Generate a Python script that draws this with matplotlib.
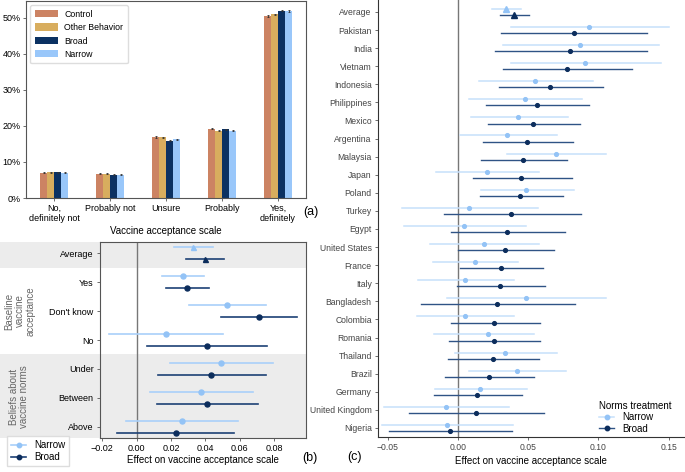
import matplotlib
matplotlib.use("Agg")
import matplotlib.pyplot as plt
from matplotlib.patches import Rectangle
from matplotlib.lines import Line2D
from matplotlib.ticker import FuncFormatter
import numpy as np

plt.rcParams['font.family'] = ['Liberation Sans', 'DejaVu Sans']

# ---- panel (a) data: share of answers (%)
scale_cats = ["No,\ndefinitely not", "Probably not", "Unsure", "Probably", "Yes,\ndefinitely"]
bar_groups = ["Control", "Other Behavior", "Broad", "Narrow"]
control_pct = [7.0, 6.7, 16.9, 19.2, 50.5]
other_pct = [7.1, 6.7, 16.8, 18.7, 50.9]
broad_pct = [7.1, 6.5, 15.9, 19.0, 51.9]
narrow_pct = [7.0, 6.5, 16.3, 18.6, 51.8]
bar_err = [0.12, 0.12, 0.15, 0.15, 0.2]

# ---- panel (b) data: effects by subgroup (estimate, low, high)
sub_rows = ["Average", "Yes", "Don't know", "No", "Under", "Between", "Above"]
sub_narrow = [0.0329, 0.0269, 0.0525, 0.0170, 0.0492, 0.0376, 0.0261]
sub_narrow_lo = [0.0217, 0.0147, 0.0304, -0.0159, 0.0196, 0.0077, -0.0060]
sub_narrow_hi = [0.0441, 0.0391, 0.0749, 0.0500, 0.0790, 0.0676, 0.0587]
sub_broad = [0.0395, 0.0294, 0.0711, 0.0409, 0.0434, 0.0410, 0.0228]
sub_broad_lo = [0.0285, 0.0170, 0.0490, 0.0060, 0.0122, 0.0118, -0.0112]
sub_broad_hi = [0.0507, 0.0418, 0.0931, 0.0759, 0.0749, 0.0707, 0.0567]

# ---- panel (c) data: effects by country
countries = ["Average", "Pakistan", "India", "Vietnam", "Indonesia", "Philippines", "Mexico",
             "Argentina", "Malaysia", "Japan", "Poland", "Turkey", "Egypt", "United States",
             "France", "Italy", "Bangladesh", "Colombia", "Romania", "Thailand", "Brazil",
             "Germany", "United Kingdom", "Nigeria"]
c_narrow = [0.0345, 0.0934, 0.0872, 0.0903, 0.0548, 0.0475, 0.0430, 0.0350, 0.0697, 0.0206,
            0.0487, 0.0080, 0.0043, 0.0182, 0.0118, 0.0050, 0.0482, 0.0047, 0.0213, 0.0336,
            0.0418, 0.0156, -0.0085, -0.0080]
c_narrow_lo = [0.0241, 0.0374, 0.0322, 0.0374, 0.0149, 0.0078, 0.0090, 0.0012, 0.0348, -0.0158,
               0.0161, -0.0400, -0.0385, -0.0201, -0.0177, -0.0286, -0.0078, -0.0293, -0.0168,
               -0.0021, 0.0080, -0.0165, -0.0525, -0.0544]
c_narrow_hi = [0.0449, 0.1506, 0.1435, 0.1444, 0.0960, 0.0882, 0.0785, 0.0702, 0.1057, 0.0579,
               0.0825, 0.0570, 0.0487, 0.0577, 0.0430, 0.0400, 0.1054, 0.0402, 0.0539, 0.0707,
               0.0768, 0.0492, 0.0366, 0.0392]
c_broad = [0.0402, 0.0823, 0.0797, 0.0775, 0.0657, 0.0563, 0.0537, 0.0489, 0.0463, 0.0452,
           0.0444, 0.0381, 0.0350, 0.0333, 0.0305, 0.0300, 0.0277, 0.0258, 0.0253, 0.0246,
           0.0222, 0.0137, 0.0128, -0.0059]
c_broad_lo = [0.0296, 0.0305, 0.0260, 0.0324, 0.0291, 0.0201, 0.0215, 0.0175, 0.0161, 0.0104,
              0.0156, -0.0102, -0.0052, 0.0000, 0.0017, -0.0007, -0.0265, -0.0052, -0.0066,
              -0.0073, -0.0090, -0.0173, -0.0348, -0.0492]
c_broad_hi = [0.0504, 0.1348, 0.1343, 0.1239, 0.1035, 0.0936, 0.0868, 0.0818, 0.0778, 0.0813,
              0.0747, 0.0875, 0.0764, 0.0681, 0.0608, 0.0622, 0.0832, 0.0584, 0.0584, 0.0577,
              0.0544, 0.0456, 0.0615, 0.0385]

W, H = 685, 472
fig = plt.figure(figsize=(W / 100, H / 100), dpi=100)


def px(l, t, r, b):
    return [l / W, 1 - b / H, (r - l) / W, (b - t) / H]


def minus_fmt(v, pos):
    return ("%.2f" % v).replace("-", "\u2212")


bar_colors = ["#cc8363", "#d8ad5e", "#0b3162", "#99c7fa"]
light = "#a9d0fa"
light_pt = "#93c3f6"
dark = "#1d4175"
dark_pt = "#0c2d5c"
spine_c = "#555555"

# ================= (a)
ax = fig.add_axes(px(26, 1, 306, 198))
x = np.arange(len(scale_cats))
bw = 0.125
series = [control_pct, other_pct, broad_pct, narrow_pct]
for i, (name, vals) in enumerate(zip(bar_groups, series)):
    ax.bar(x + (i - 1.5) * bw, vals, bw, color=bar_colors[i], label=name,
           yerr=bar_err, error_kw=dict(ecolor="#333333", elinewidth=0.6, capsize=1, capthick=0.6))
ax.set_xlim(-0.5, 4.5)
ax.set_ylim(0, 54.6)
ax.set_yticks([0, 10, 20, 30, 40, 50])
ax.set_yticklabels(["%d%%" % v for v in [0, 10, 20, 30, 40, 50]])
ax.set_xticks(x)
ax.set_xticklabels(scale_cats)
ax.tick_params(labelsize=6.5, length=2.5, width=0.6, color=spine_c, pad=1.5)
ax.set_xlabel("Vaccine acceptance scale", fontsize=7, labelpad=2)
for s in ax.spines.values():
    s.set_color(spine_c)
    s.set_linewidth(0.8)
leg = ax.legend(loc="upper left", fontsize=6.3, handlelength=2.6, handleheight=0.9,
                borderpad=0.5, labelspacing=0.5, framealpha=1, edgecolor="#dddddd")
fig.text(311 / W, 1 - 212 / H, "(a)", fontsize=9, ha="center", va="center")

# ================= (b)
bx = fig.add_axes(px(100, 242, 306, 438))
ypos = np.arange(len(sub_rows))
off = 0.2
# gray bands across label area
for (y0, y1) in [(-0.38, 0.5), (3.5, 6.38)]:
    bx.add_patch(Rectangle((-100 / 206, y0), 1 + 100 / 206, y1 - y0,
                           transform=bx.get_yaxis_transform(), color="#ececec",
                           zorder=0, clip_on=False, lw=0))
bx.axvline(0, color="#777777", lw=1, zorder=1)
for i in range(len(sub_rows)):
    mk = "^" if i == 0 else "o"
    bx.plot([sub_narrow_lo[i], sub_narrow_hi[i]], [i - off, i - off], color=light, lw=1.2, zorder=2)
    bx.plot(sub_narrow[i], i - off, marker=mk, color=light_pt, ms=3.6, zorder=3)
    bx.plot([sub_broad_lo[i], sub_broad_hi[i]], [i + off, i + off], color=dark, lw=1.2, zorder=2)
    bx.plot(sub_broad[i], i + off, marker=mk, color=dark_pt, ms=3.6, zorder=3)
bx.set_ylim(6.38, -0.38)
bx.set_xlim(-0.0213, 0.0984)
bx.set_yticks(ypos)
bx.set_yticklabels(sub_rows)
bx.set_xticks([-0.02, 0.0, 0.02, 0.04, 0.06, 0.08])
bx.xaxis.set_major_formatter(FuncFormatter(minus_fmt))
bx.tick_params(labelsize=6.5, length=2.5, width=0.6, color=spine_c, pad=2)
bx.set_xlabel("Effect on vaccine acceptance scale", fontsize=7, labelpad=1)
bx.patch.set_alpha(0)
for s in bx.spines.values():
    s.set_color(spine_c)
    s.set_linewidth(0.8)
fig.text(20 / W, 1 - 311 / H, "Baseline\nvaccine\nacceptance", rotation=90, fontsize=7,
         color="#666666", ha="center", va="center", linespacing=1.1)
fig.text(19 / W, 1 - 397 / H, "Beliefs about\nvaccine norms", rotation=90, fontsize=7,
         color="#666666", ha="center", va="center", linespacing=1.1)
hb = [Line2D([], [], color=light, marker="o", mfc=light_pt, mec=light_pt, ms=3.2, lw=1.2),
      Line2D([], [], color=dark, marker="o", mfc=dark_pt, mec=dark_pt, ms=3.2, lw=1.2)]
fig.legend(hb, ["Narrow", "Broad"], loc="lower left", bbox_to_anchor=(2 / W, 1 / H),
           fontsize=7, handlelength=1.6, borderpad=0.4, labelspacing=0.2,
           framealpha=1, edgecolor="#dddddd", fancybox=False)
fig.text(310 / W, 1 - 458 / H, "(b)", fontsize=9, ha="center", va="center")

# ================= (c)
cx = fig.add_axes(px(378, 0, 684, 437))
cpos = np.arange(len(countries))
coff = 0.17
cx.axvline(0, color="#777777", lw=1, zorder=1)
for i in range(len(countries)):
    if i == 0:
        mk, ms = "^", 5
    else:
        mk, ms = "o", 2.7
    cx.plot([c_narrow_lo[i], c_narrow_hi[i]], [i - coff, i - coff], color="#c6e0fb", lw=1.1, zorder=2)
    cx.plot(c_narrow[i], i - coff, marker=mk, color=light_pt, ms=ms, zorder=3)
    cx.plot([c_broad_lo[i], c_broad_hi[i]], [i + coff, i + coff], color="#2f5385", lw=1.0, zorder=2)
    cx.plot(c_broad[i], i + coff, marker=mk, color=dark_pt, ms=ms, zorder=3)
cx.set_ylim(23.5, -0.66)
cx.set_xlim(-0.057, 0.161)
cx.set_yticks(cpos)
cx.set_yticklabels(countries)
cx.set_xticks([-0.05, 0.0, 0.05, 0.10, 0.15])
cx.xaxis.set_major_formatter(FuncFormatter(minus_fmt))
cx.tick_params(labelsize=6.2, length=2.5, width=0.6, color=spine_c, pad=2, labelcolor="#444444")
cx.set_xlabel("Effect on vaccine acceptance scale", fontsize=7, labelpad=3)
cx.spines["top"].set_visible(False)
cx.spines["right"].set_visible(False)
for s in ["left", "bottom"]:
    cx.spines[s].set_color("#333333")
    cx.spines[s].set_linewidth(0.8)
hc = [Line2D([], [], color="#c6e0fb", marker="o", mfc=light_pt, mec=light_pt, ms=3.2, lw=1.1),
      Line2D([], [], color="#2f5385", marker="o", mfc=dark_pt, mec=dark_pt, ms=3.2, lw=1.0)]
cx.legend(hc, ["Narrow", "Broad"], title="Norms treatment", loc="upper left",
          bbox_to_anchor=(594 / W, 1 - 396 / H), bbox_transform=fig.transFigure,
          fontsize=7, title_fontsize=7, frameon=False, handlelength=1.6,
          borderpad=0, labelspacing=0.15, alignment="left")
fig.text(355 / W, 1 - 457 / H, "(c)", fontsize=9, ha="center", va="center")

fig.savefig("out.png", dpi=100)
